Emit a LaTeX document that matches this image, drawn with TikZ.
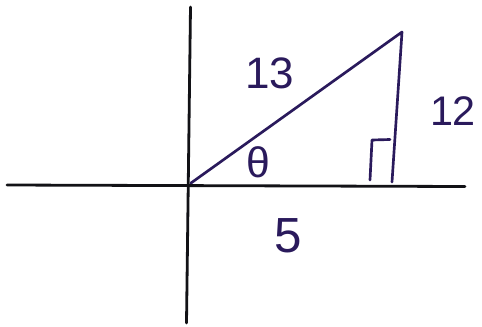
\documentclass[tikz,border=0pt]{standalone}
\usepackage{fontspec}
\setmainfont{Liberation Sans}
\definecolor{ink}{RGB}{42,26,92}
\definecolor{axisink}{RGB}{18,18,22}
\begin{document}
\begin{tikzpicture}[x=0.75pt,y=-0.75pt,
  axisline/.style={draw=axisink,line width=2.1pt,line cap=round},
  penline/.style={draw=ink,line width=2pt,line cap=round,line join=round},
  lab/.style={text=ink,inner sep=0pt}]
\useasboundingbox[fill=white] (0,0) rectangle (482,326);
% axes
\coordinate (ytop) at (190.5,7);
\coordinate (ybot) at (186.5,323);
\coordinate (xleft) at (7,185);
\coordinate (xright) at (465,186.5);
\draw[axisline] (ytop) -- (ybot);
\draw[axisline] (xleft) -- (xright);
% triangle
\coordinate (O) at (191,183);
\coordinate (A) at (402,32);
\coordinate (B) at (392,182);
\draw[penline] (O) -- (A) -- (B);
% right angle mark
\coordinate (r1) at (370,180);
\coordinate (r2) at (372,140);
\coordinate (r3) at (390,139.5);
\draw[penline] (r1) -- (r2) -- (r3);
% labels
\node[lab,font=\fontsize{33}{33}\selectfont] (l13) at (270,73) {13};
\node[lab,font=\fontsize{31}{31}\selectfont] (l12) at (453,111) {12};
\node[lab,font=\fontsize{32}{32}\selectfont] (th) at (258,162) {θ};
\node[lab,font=\fontsize{37}{37}\selectfont] (l5) at (288,236) {5};
\end{tikzpicture}
\end{document}
